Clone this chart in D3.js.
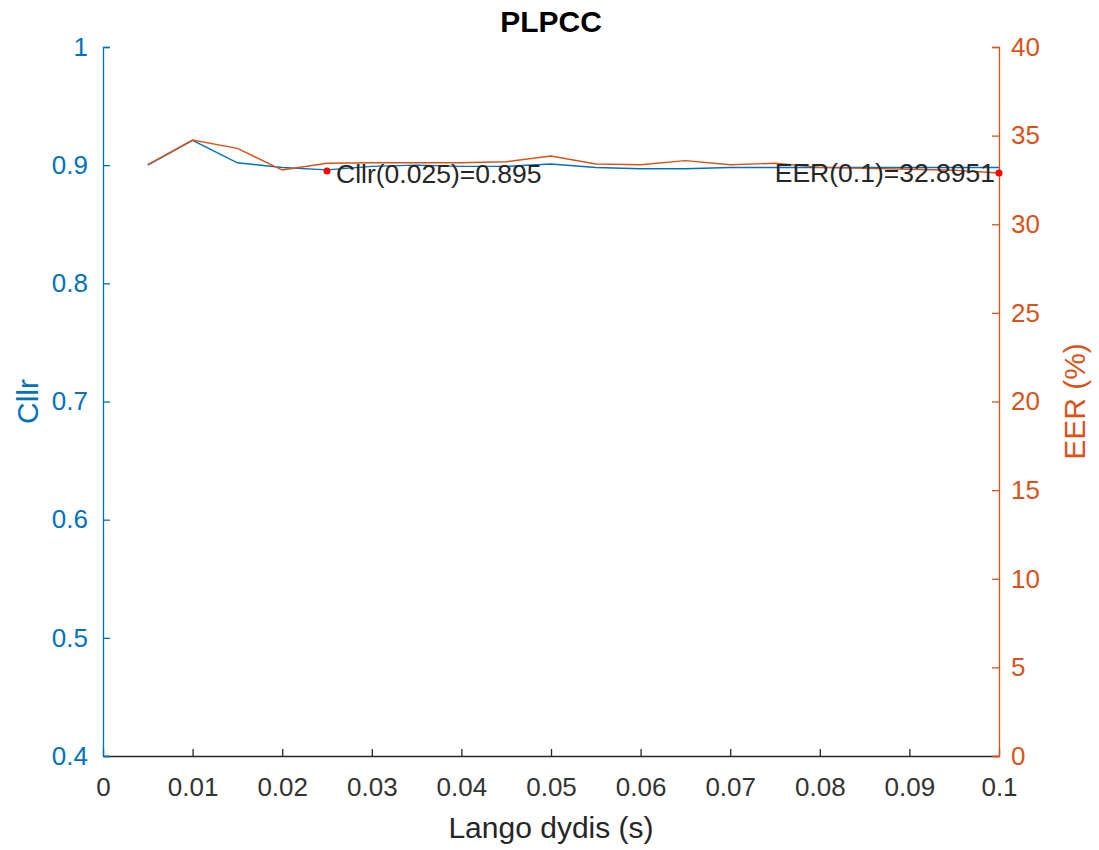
<!DOCTYPE html>
<html>
<head>
<meta charset="utf-8">
<script src="https://cdn.jsdelivr.net/npm/d3@7"></script>
<style>
  body { margin: 0; background: #fff; }
  text { font-family: "Liberation Sans", Arial, Helvetica, sans-serif; }
</style>
</head>
<body>
<svg id="chart"></svg>
<script>
// segment length (s)
var lengths = [0.005, 0.01, 0.015, 0.02, 0.025, 0.03, 0.035, 0.04, 0.045, 0.05,
               0.055, 0.06, 0.065, 0.07, 0.075, 0.08, 0.085, 0.09, 0.095, 0.1];
var cllr = [0.900, 0.921, 0.902, 0.898, 0.896, 0.899, 0.900, 0.899, 0.899, 0.901,
            0.898, 0.897, 0.897, 0.898, 0.898, 0.898, 0.898, 0.898, 0.898, 0.898];
var eer = [33.36, 34.75, 34.28, 33.06, 33.44, 33.47, 33.47, 33.47, 33.53, 33.85,
           33.40, 33.36, 33.59, 33.36, 33.44, 33.21, 33.15, 33.10, 33.05, 32.8951];
var xTicks = [0, 0.01, 0.02, 0.03, 0.04, 0.05, 0.06, 0.07, 0.08, 0.09, 0.1];
var cllrTicks = [0.4, 0.5, 0.6, 0.7, 0.8, 0.9, 1];
var eerTicks = [0, 5, 10, 15, 20, 25, 30, 35, 40];
var cllrMark = {x: 0.025, y: 0.895, label: "Cllr(0.025)=0.895"};
var eerMark = {x: 0.1, y: 32.8951, label: "EER(0.1)=32.8951"};

var W = 1099, H = 850;
var margin = {top: 47, right: 100, bottom: 94, left: 103};
var BLUE = "#0072BD", ORANGE = "#D95319", DARK = "#262626";
var TICK = 7;

var svg = d3.select("#chart").attr("width", W).attr("height", H);
var g = svg.append("g").attr("transform", "translate(" + margin.left + "," + margin.top + ")");
var w = W - margin.left - margin.right, h = H - margin.top - margin.bottom;

var x = d3.scaleLinear().domain([0, 0.1]).range([0, w]);
var yL = d3.scaleLinear().domain([0.4, 1]).range([h, 0]);
var yR = d3.scaleLinear().domain([0, 40]).range([h, 0]);

function styleAxis(sel, color) {
  sel.select(".domain").attr("stroke", color).attr("stroke-width", 1.3);
  sel.selectAll(".tick line").attr("stroke", color).attr("stroke-width", 1.3);
  sel.selectAll(".tick text").attr("fill", color).style("font-size", "26px");
}

// bottom axis, ticks inward
var gx = g.append("g").attr("transform", "translate(0," + h + ")")
  .call(d3.axisBottom(x).tickValues(xTicks).tickSizeInner(-TICK).tickSizeOuter(0)
    .tickFormat(function (d) { return d3.format("")(+d.toFixed(3)); }));
styleAxis(gx, DARK);
gx.selectAll(".tick text").attr("y", 22).attr("dy", "0.71em").attr("fill", "#333");

var gl = g.append("g")
  .call(d3.axisLeft(yL).tickValues(cllrTicks).tickSizeInner(-TICK).tickSizeOuter(-TICK)
    .tickFormat(function (d) { return d3.format("")(+d.toFixed(1)); }));
styleAxis(gl, BLUE);
gl.selectAll(".tick text").attr("x", -15);

var gr = g.append("g").attr("transform", "translate(" + w + ",0)")
  .call(d3.axisRight(yR).tickValues(eerTicks).tickSizeInner(-TICK).tickSizeOuter(-TICK));
styleAxis(gr, ORANGE);
gr.selectAll(".tick text").attr("x", 12);

// lines
var lineL = d3.line().x(function (d, i) { return x(lengths[i]); }).y(function (d) { return yL(d); });
var lineR = d3.line().x(function (d, i) { return x(lengths[i]); }).y(function (d) { return yR(d); });

g.append("path").datum(cllr).attr("d", lineL)
  .attr("fill", "none").attr("stroke", BLUE).attr("stroke-width", 1.4);
g.append("path").datum(eer).attr("d", lineR)
  .attr("fill", "none").attr("stroke", ORANGE).attr("stroke-width", 1.4);

// marked points
g.append("circle").attr("cx", x(cllrMark.x)).attr("cy", yL(cllrMark.y)).attr("r", 3.5).attr("fill", "#ff0000");
g.append("text").attr("x", x(cllrMark.x) + 9).attr("y", yL(cllrMark.y) + 12)
  .attr("fill", DARK).style("font-size", "26.5px").text(cllrMark.label);

g.append("circle").attr("cx", x(eerMark.x)).attr("cy", yR(eerMark.y)).attr("r", 3.5).attr("fill", "#ff0000");
g.append("text").attr("x", x(eerMark.x) - 4).attr("y", yR(eerMark.y) + 9)
  .attr("text-anchor", "end")
  .attr("fill", DARK).style("font-size", "26.5px").text(eerMark.label);

// titles
svg.append("text").attr("x", margin.left + w / 2).attr("y", 32)
  .attr("text-anchor", "middle").attr("fill", "#000")
  .style("font-size", "30px").style("font-weight", "bold").text("PLPCC");

svg.append("text").attr("x", margin.left + w / 2).attr("y", 838)
  .attr("text-anchor", "middle").attr("fill", DARK)
  .style("font-size", "30px").text("Lango dydis (s)");

svg.append("text").attr("transform", "translate(38," + (margin.top + h / 2) + ") rotate(-90)")
  .attr("text-anchor", "middle").attr("fill", BLUE)
  .style("font-size", "30px").text("Cllr");

svg.append("text").attr("transform", "translate(1085," + (margin.top + h / 2) + ") rotate(-90)")
  .attr("text-anchor", "middle").attr("fill", ORANGE)
  .style("font-size", "30px").text("EER (%)");
</script>
</body>
</html>
